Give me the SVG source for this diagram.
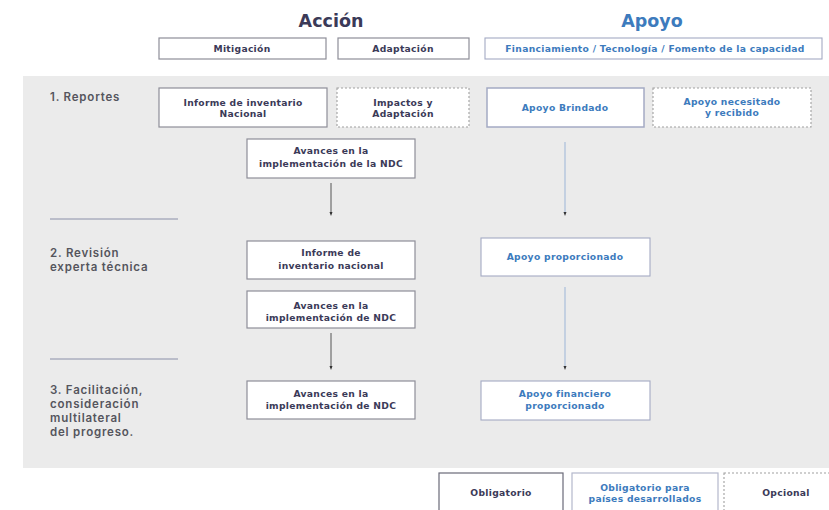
<svg xmlns="http://www.w3.org/2000/svg" width="829" height="510" viewBox="0 0 829 510">
<style>
.t{font-family:"DejaVu Sans","Liberation Sans",sans-serif;font-weight:bold;font-size:9.2px;letter-spacing:0.3px;text-anchor:middle}
.a{fill:#3b3a58}
.s{fill:#3d7bbd}
.box{fill:#fff;stroke:#8e8e98;stroke-width:1.2}
.sbox{fill:#fff;stroke:#a4aac4;stroke-width:1.5}
.dash{fill:#fff;stroke:#a0a0a0;stroke-width:1.1;stroke-dasharray:2 2}
.sec{font-family:Inter,"DejaVu Sans",sans-serif;font-weight:600;font-size:11.5px;letter-spacing:0.8px;fill:#55555d}
.h{font-family:"DejaVu Sans","Liberation Sans",sans-serif;font-weight:bold;font-size:17.5px;text-anchor:middle}
.sep{stroke:#8a8fa8;stroke-width:1}
</style>
<defs>
<marker id="tip" markerWidth="4" markerHeight="4" refX="2" refY="2" orient="auto" markerUnits="userSpaceOnUse">
<path d="M0,0.5 L4,2 L0,3.5 z" fill="#333"/>
</marker>
</defs>
<rect width="829" height="510" fill="#fff"/>
<rect x="23" y="76" width="806" height="392" fill="#ebebeb"/>

<g id="headers">
<text class="h a" x="331" y="27">Acción</text>
<text class="h s" x="652" y="27">Apoyo</text>
</g>
<g id="mitigacion"><rect class="box" x="159" y="38" width="167" height="21"/><text class="t a" x="242" y="52">Mitigación</text></g>
<g id="adaptacion"><rect class="box" x="338" y="38" width="131" height="21"/><text class="t a" x="403" y="52">Adaptación</text></g>
<g id="financiamiento"><rect class="sbox" x="485" y="38" width="337" height="21" style="stroke-width:1.1"/><text class="t s" x="655" y="52">Financiamiento / Tecnología / Fomento de la capacidad</text></g>

<g id="sections">
<text class="sec" x="50" y="101">1. Reportes</text>
<line class="sep" x1="50" y1="219" x2="178" y2="219"/>
<text class="sec" x="50" y="257">2. Revisión</text>
<text class="sec" x="50" y="271">experta técnica</text>
<line class="sep" x1="50" y1="359" x2="178" y2="359"/>
<text class="sec" x="50" y="394">3. Facilitación,</text>
<text class="sec" x="50" y="408">consideración</text>
<text class="sec" x="50" y="422">multilateral</text>
<text class="sec" x="50" y="436">del progreso.</text>
</g>

<g id="n_informe1"><rect class="box" x="159" y="88" width="168" height="39"/><text class="t a" x="243" y="106">Informe de inventario</text><text class="t a" x="243" y="117">Nacional</text></g>
<g id="n_impactos"><rect class="dash" x="337" y="88" width="132" height="39"/><text class="t a" x="403" y="106">Impactos y</text><text class="t a" x="403" y="117">Adaptación</text></g>
<g id="n_brindado"><rect class="sbox" x="487" y="88" width="157" height="39"/><text class="t s" x="565" y="111">Apoyo Brindado</text></g>
<g id="n_necesitado"><rect class="dash" x="653" y="88" width="158" height="39"/><text class="t s" x="732" y="105">Apoyo necesitado</text><text class="t s" x="732" y="116">y recibido</text></g>
<g id="n_avances1"><rect class="box" x="247" y="139" width="168" height="39"/><text class="t a" x="331" y="154">Avances en la</text><text class="t a" x="331" y="167">implementación de la NDC</text></g>

<g id="n_informe2"><rect class="box" x="247" y="241" width="168" height="38"/><text class="t a" x="331" y="256">Informe de</text><text class="t a" x="331" y="269">inventario nacional</text></g>
<g id="n_avances2"><rect class="box" x="247" y="291" width="168" height="37"/><text class="t a" x="331" y="309">Avances en la</text><text class="t a" x="331" y="321">implementación de NDC</text></g>
<g id="n_proporcionado"><rect class="sbox" x="481" y="238" width="169" height="38" style="stroke-width:1.1"/><text class="t s" x="565" y="260">Apoyo proporcionado</text></g>

<g id="n_avances3"><rect class="box" x="247" y="381" width="168" height="38"/><text class="t a" x="331" y="397">Avances en la</text><text class="t a" x="331" y="409">implementación de NDC</text></g>
<g id="n_financiero"><rect class="sbox" x="481" y="381" width="169" height="39" style="stroke-width:1.1"/><text class="t s" x="565" y="397">Apoyo financiero</text><text class="t s" x="565" y="409">proporcionado</text></g>

<g id="connectors">
<line x1="331" y1="183" x2="331" y2="214" stroke="#555" stroke-width="1" marker-end="url(#tip)"/>
<line x1="565" y1="142" x2="565" y2="214" stroke="#a9bedb" stroke-width="1.2" marker-end="url(#tip)"/>
<line x1="331" y1="333" x2="331" y2="368" stroke="#555" stroke-width="1" marker-end="url(#tip)"/>
<line x1="565" y1="287" x2="565" y2="368" stroke="#a9bedb" stroke-width="1.2" marker-end="url(#tip)"/>
</g>

<g id="legend">
<g id="l_obligatorio"><rect x="439" y="473" width="124" height="45" fill="#fff" stroke="#6a6a78" stroke-width="1.2"/><text class="t a" x="501" y="496">Obligatorio</text></g>
<g id="l_desarrollados"><rect x="572" y="473" width="146" height="45" fill="#fff" stroke="#b4b8cc" stroke-width="1.2"/><text class="t s" x="645" y="491">Obligatorio para</text><text class="t s" x="645" y="502">países desarrollados</text></g>
<g id="l_opcional"><rect class="dash" x="724" y="473" width="110" height="45"/><text class="t a" x="786" y="496">Opcional</text></g>
</g>
</svg>
